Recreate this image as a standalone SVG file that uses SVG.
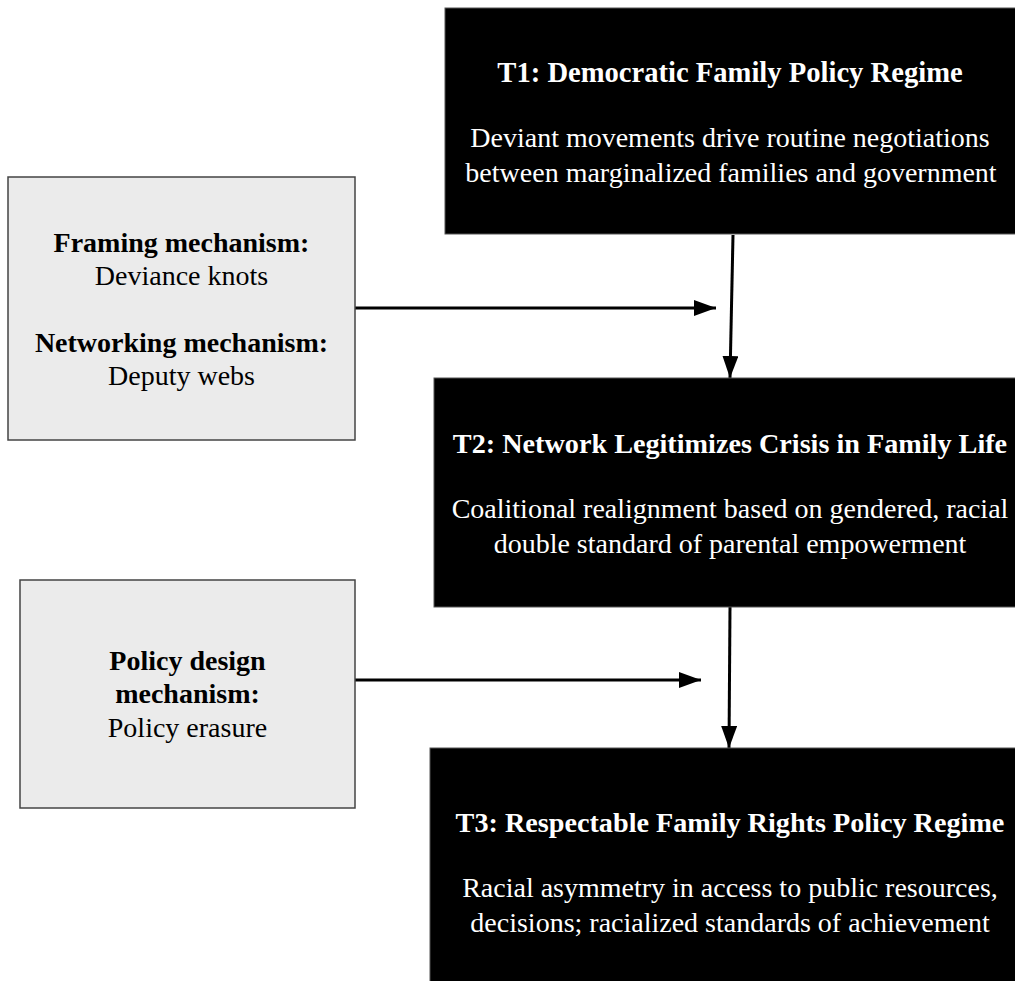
<svg xmlns="http://www.w3.org/2000/svg" width="1015" height="981" viewBox="0 0 1015 981">
  <style>
    .dark { fill: #000; stroke: #555; stroke-width: 1; }
    .light { fill: #ebebeb; stroke: #444; stroke-width: 1.5; }
    text { font-family: "Liberation Serif", "Times New Roman", serif; font-size: 28px; text-anchor: middle; }
    .w { fill: #fff; }
    .k { fill: #000; }
    .b { font-weight: bold; }
    .t { font-size: 28.2px; }
    .conn { stroke: #000; stroke-width: 3; fill: none; marker-end: url(#arr); }
  </style>
  <defs>
    <marker id="arr" markerUnits="userSpaceOnUse" markerWidth="24" markerHeight="18" refX="22" refY="8" orient="auto">
      <path d="M0,0 L22,8 L0,16 Z" fill="#000"/>
    </marker>
  </defs>
  <rect width="1015" height="981" fill="#fff"/>

  <g id="connectors">
    <path class="conn" d="M355,308 L716,308"/>
    <path class="conn" d="M733,235 L730,378"/>
    <path class="conn" d="M343,680 L701,680"/>
    <path class="conn" d="M730,607 L729,748"/>
  </g>

  <g id="t1">
    <rect class="dark" x="445" y="8" width="580" height="226"/>
    <text class="w b" x="730" y="82" style="font-size:28.6px">T1: Democratic Family Policy Regime</text>
    <text class="w" x="730" y="147">Deviant movements drive routine negotiations</text>
    <text class="w" x="731" y="182">between marginalized families and government</text>
  </g>

  <g id="t2">
    <rect class="dark" x="434" y="378" width="591" height="229"/>
    <text class="w b t" x="730" y="453">T2: Network Legitimizes Crisis in Family Life</text>
    <text class="w" x="730" y="518">Coalitional realignment based on gendered, racial</text>
    <text class="w" x="730" y="553">double standard of parental empowerment</text>
  </g>

  <g id="t3">
    <rect class="dark" x="430" y="748" width="595" height="243"/>
    <text class="w b t" x="730" y="832">T3: Respectable Family Rights Policy Regime</text>
    <text class="w" x="730" y="897">Racial asymmetry in access to public resources,</text>
    <text class="w" x="730" y="932">decisions; racialized standards of achievement</text>
  </g>

  <g id="mech1">
    <rect class="light" x="8" y="177" width="347" height="263"/>
    <text class="k b" x="181.5" y="252">Framing mechanism:</text>
    <text class="k" x="181.5" y="285">Deviance knots</text>
    <text class="k b" x="181.5" y="352">Networking mechanism:</text>
    <text class="k" x="181.5" y="385">Deputy webs</text>
  </g>

  <g id="mech2">
    <rect class="light" x="20" y="580" width="335" height="228"/>
    <text class="k b" x="187.5" y="670">Policy design</text>
    <text class="k b" x="187.5" y="703">mechanism:</text>
    <text class="k" x="187.5" y="737">Policy erasure</text>
  </g>
</svg>
